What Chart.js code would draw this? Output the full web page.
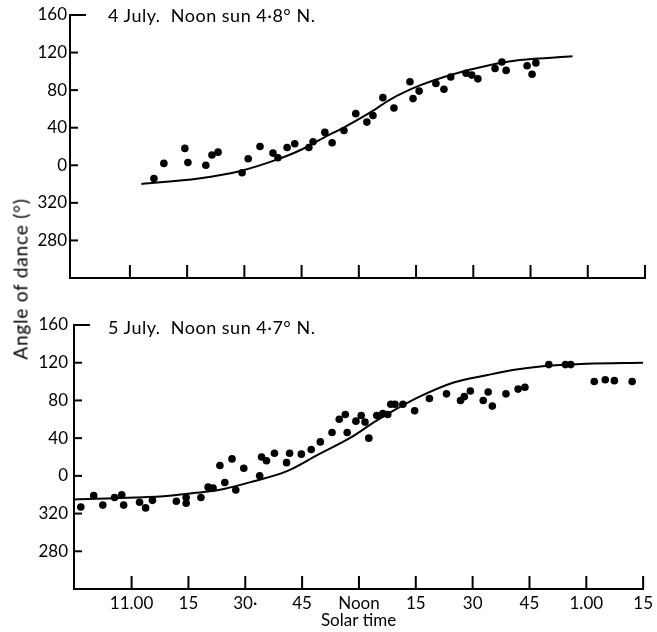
<!DOCTYPE html>
<html>
<head>
<meta charset="utf-8">
<script src="https://cdn.jsdelivr.net/npm/chart.js@4.4.1/dist/chart.umd.min.js"></script>
<style>
  body { margin: 0; background: #fff; }
  #wrap { position: relative; width: 657px; height: 632px; font-family: Lato, "Open Sans", sans-serif; color: #000; }
  canvas { position: absolute; left: 0; }
  #chartTop { top: 0; }
  #chartBottom { top: 300px; }
  .note { position: absolute; left: 108px; font-size: 18px; letter-spacing: 0.5px; line-height: 20px; white-space: pre; }
  #yTitle { position: absolute; left: 20px; top: 279px; transform: translate(-50%, -50%) rotate(-90deg); font-size: 19px; letter-spacing: 0.8px; white-space: nowrap; }
</style>
</head>
<body>
<div id="wrap">
  <canvas id="chartTop" width="657" height="300"></canvas>
  <canvas id="chartBottom" width="657" height="332"></canvas>
  <div class="note" style="top:5px">4 July.  Noon sun 4·8° N.</div>
  <div class="note" style="top:317px">5 July.  Noon sun 4·7° N.</div>
  <div id="yTitle">Angle of dance (°)</div>
</div>
<script>
// time in minutes from solar noon, angle in degrees (negative = 360 - x)
const xTicks = [-60, -45, -30, -15, 0, 15, 30, 45, 60, 75];
const xTickLabels = ['11.00', '15', '30·', '45', 'Noon', '15', '30', '45', '1.00', '15'];
const yTicks = [-80, -40, 0, 40, 80, 120, 160];
const yTickLabels = ['280', '320', '0', '40', '80', '120', '160'];

// 4 July
const july4Times = [-53.7, -51.1, -45.6, -44.8, -40.1, -38.5, -36.9, -30.6, -29.0, -25.9, -22.5, -21.2, -18.8, -16.8,
  -13.1, -12.0, -8.9, -7.0, -3.9, -0.8, 2.1, 3.7, 6.3, 9.2, 13.4, 14.2, 15.8, 20.2, 22.3, 24.1, 28.1, 29.6, 31.2,
  35.7, 37.5, 38.6, 44.1, 45.4, 46.4];
const july4Angles = [-14, 2, 18, 3, 0, 11, 14, -8, 7, 20, 13, 8, 19, 23,
  19, 25, 35, 24, 37, 55, 46, 53, 72, 61, 89, 71, 79, 87, 81, 94, 98, 96, 92,
  103, 110, 101, 106, 97, 109];
const july4CurveTimes = [-57, -42, -31, -21.5, -15.4, -9.4, -3.6, 2.9, 8.2, 16, 24.7, 33.6, 42.2, 56];
const july4CurveAngles = [-20, -14, -6, 6, 16, 29, 41, 56, 70, 85, 97, 106, 112, 116];

// 5 July
const july5Times = [-73.4, -70.0, -67.6, -64.5, -62.6, -62.1, -57.9, -56.3, -54.5, -48.2, -45.6, -45.6, -41.7, -39.8,
  -38.5, -36.7, -35.4, -33.5, -32.5, -30.4, -26.2, -25.7, -24.4, -22.3, -19.1, -18.3, -15.2, -12.6, -10.2, -7.1,
  -5.2, -3.6, -3.1, -0.8, 0.6, 1.6, 2.6, 4.7, 6.3, 7.6, 8.4, 9.5, 11.6, 14.7, 18.6, 23.1, 26.8, 27.8, 29.4, 32.8,
  34.1, 35.2, 38.8, 42.0, 43.8, 50.1, 54.5, 55.9, 62.1, 65.0, 67.4, 72.1];
const july5Angles = [-33, -21, -31, -23, -20, -31, -28, -34, -26, -27, -23, -29, -23, -12,
  -13, 11, -7, 18, -15, 8, 0, 20, 16, 24, 14, 24, 23, 28, 36, 46,
  60, 65, 46, 58, 64, 57, 40, 64, 66, 65, 76, 76, 76, 69, 82, 87, 80, 84, 90, 80,
  89, 74, 87, 92, 94, 118, 118, 118, 100, 102, 101, 100];
const july5CurveTimes = [-75, -59, -50, -41, -37, -28, -19, -11, -2, 4, 9, 16, 25, 34, 42, 51, 60, 75];
const july5CurveAngles = [-25, -23, -21, -17, -15, -6, 5, 22, 41, 57, 69, 84, 99, 107, 113, 117, 119, 120];

const ink = '#000';
const fontFamily = 'Lato, "Open Sans", sans-serif';

function toXY(xs, ys) {
  return xs.map((x, i) => ({ x: x, y: ys[i] }));
}

// tick marks drawn inward, like the printed figure
const innerTicks = {
  id: 'innerTicks',
  afterDatasetsDraw(chart) {
    const { ctx, chartArea, scales } = chart;
    ctx.save();
    ctx.strokeStyle = ink;
    ctx.lineWidth = 2;
    scales.y.ticks.forEach(t => {
      const y = scales.y.getPixelForValue(t.value);
      const len = t.value === 160 ? 16 : 8;
      ctx.beginPath();
      ctx.moveTo(chartArea.left, y);
      ctx.lineTo(chartArea.left + len, y);
      ctx.stroke();
    });
    scales.x.ticks.forEach(t => {
      const x = scales.x.getPixelForValue(t.value);
      ctx.beginPath();
      ctx.moveTo(x, chartArea.bottom);
      ctx.lineTo(x, chartArea.bottom - 13);
      ctx.stroke();
    });
    ctx.restore();
  }
};

function makePanel(id, cfg) {
  const ctx = document.getElementById(id).getContext('2d');
  return new Chart(ctx, {
    type: 'scatter',
    data: {
      datasets: [{
        data: toXY(cfg.curveX, cfg.curveY),
        showLine: true,
        borderColor: ink,
        borderWidth: 2,
        pointRadius: 0,
        cubicInterpolationMode: 'monotone'
      }, {
        data: toXY(cfg.pointX, cfg.pointY),
        pointRadius: 3.8,
        pointBackgroundColor: ink,
        pointBorderWidth: 0
      }]
    },
    options: {
      responsive: false,
      animation: false,
      layout: { padding: { left: 0, top: cfg.top, right: cfg.right, bottom: 0 } },
      plugins: { legend: { display: false }, tooltip: { enabled: false } },
      scales: {
        x: {
          type: 'linear',
          min: cfg.xMin,
          max: 75,
          afterBuildTicks: s => { s.ticks = xTicks.map(v => ({ value: v })); },
          afterFit: s => { s.height = cfg.xHeight; },
          grid: { drawOnChartArea: false, drawTicks: false },
          border: { color: ink, width: 2 },
          ticks: {
            display: cfg.xLabels,
            autoSkip: false,
            maxRotation: 0,
            padding: 4,
            color: ink,
            font: { family: fontFamily, size: 17 },
            callback: v => xTickLabels[xTicks.indexOf(v)]
          },
          title: {
            display: cfg.xLabels,
            text: 'Solar time',
            color: ink,
            font: { family: fontFamily, size: 17 },
            padding: { top: 0, bottom: 1 }
          }
        },
        y: {
          min: -120,
          max: 160,
          afterBuildTicks: s => { s.ticks = yTicks.map(v => ({ value: v })); },
          afterFit: s => { s.width = cfg.yWidth; },
          grid: { drawOnChartArea: false, drawTicks: false },
          border: { color: ink, width: 2 },
          ticks: {
            padding: cfg.yPad,
            color: ink,
            font: { family: fontFamily, size: 17 },
            callback: v => yTickLabels[yTicks.indexOf(v)]
          }
        }
      }
    },
    plugins: [innerTicks]
  });
}

makePanel('chartTop', {
  curveX: july4CurveTimes, curveY: july4CurveAngles,
  pointX: july4Times, pointY: july4Angles,
  top: 15, right: 12, xMin: -75.7, xHeight: 22, xLabels: false, yWidth: 70, yPad: 3
});

makePanel('chartBottom', {
  curveX: july5CurveTimes, curveY: july5CurveAngles,
  pointX: july5Times, pointY: july5Angles,
  top: 25, right: 11, xMin: -75.2, xHeight: 43, xLabels: true, yWidth: 74, yPad: 6
});
</script>
</body>
</html>
